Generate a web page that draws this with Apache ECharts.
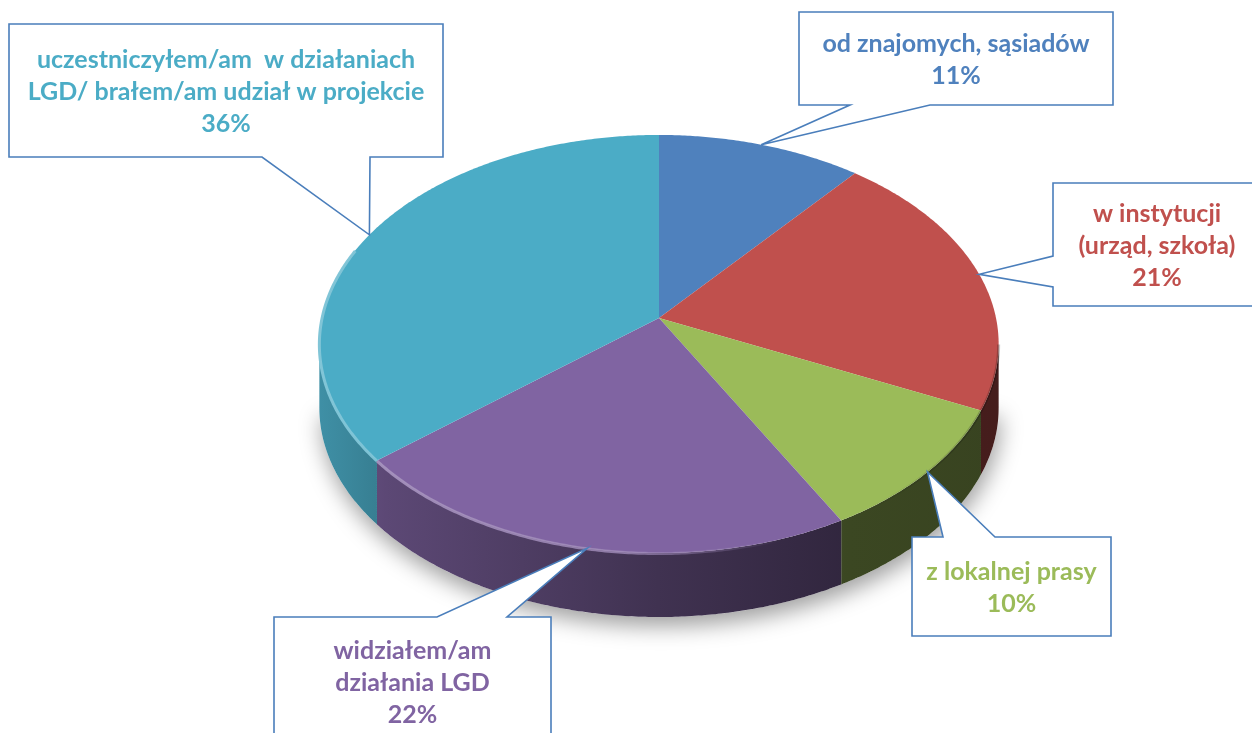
<!DOCTYPE html>
<html>
<head>
<meta charset="utf-8">
<script src="https://cdn.jsdelivr.net/npm/echarts@6/dist/echarts.min.js"></script>
<style>
  html, body { margin: 0; padding: 0; background: #ffffff; }
  #chart { width: 1252px; height: 733px; }
</style>
</head>
<body>
<div id="chart"></div>
<script>
// Where respondents learned about the LGD – shares of answers (%)
const categories = [
  'od znajomych, sąsiadów',
  'w instytucji\n(urząd, szkoła)',
  'z lokalnej prasy',
  'widziałem/am\ndziałania LGD',
  'uczestniczyłem/am  w działaniach\nLGD/ brałem/am udział w projekcie'
];
const shares = [11, 21, 10, 22, 36];
const sliceColors = ['#4F81BD', '#C0504D', '#9BBB59', '#8064A2', '#4BACC6'];

// Tilted disc: projected centre, radii, perspective factor, wall height
const CX = 659, CY = 318, RX = 337, RY = 205.8, PERSP = 0.1244, DEPTH = 64;

// Callout boxes and the two points where the pointer leaves the box edge
const callouts = [
  { x: 799,  y: 12,  w: 314, h: 93,  edge: 'bottom', from: 850, to: 930 },
  { x: 1053, y: 183, w: 208, h: 123, edge: 'left',   from: 256, to: 287 },
  { x: 912,  y: 537, w: 199, h: 99,  edge: 'top',    from: 943, to: 995 },
  { x: 274,  y: 617, w: 277, h: 130, edge: 'top',    from: 437, to: 507 },
  { x: 9,    y: 24,  w: 434, h: 133, edge: 'bottom', from: 262, to: 370 }
];

const total = shares.reduce((a, b) => a + b, 0);
const startDeg = [];
(function () {
  let acc = 0;
  shares.forEach(v => { startDeg.push(acc / total * 360); acc += v; });
})();

// Angle measured clockwise from 12 o'clock; perspective makes the far side smaller
function proj(deg, drop) {
  const t = deg * Math.PI / 180;
  const s = Math.sin(t), c = Math.cos(t);
  const d = 1 + PERSP * c;
  return [CX + RX * s / d, CY - RY * c / d + (drop || 0)];
}
function arc(a0, a1, drop) {
  const pts = [];
  const n = Math.max(2, Math.ceil(Math.abs(a1 - a0) * 2));
  for (let i = 0; i <= n; i++) pts.push(proj(a0 + (a1 - a0) * i / n, drop));
  return pts;
}
// Front part of the wall that faces the viewer
const VIS_R = Math.acos(-PERSP) * 180 / Math.PI;
const VIS_L = 360 - VIS_R;

function rgb(hex) {
  const n = parseInt(hex.slice(1), 16);
  return [(n >> 16) & 255, (n >> 8) & 255, n & 255];
}
function shade(hex, f, a) {
  const c = rgb(hex).map(v => Math.round(v * f));
  return 'rgba(' + c.join(',') + ',' + (a == null ? 1 : a) + ')';
}
function tint(hex, f, a) {
  const c = rgb(hex).map(v => Math.round(v + (255 - v) * f));
  return 'rgba(' + c.join(',') + ',' + (a == null ? 1 : a) + ')';
}
function wallFill(hex) {
  return new echarts.graphic.LinearGradient(318, 0, 998, 0, [
    { offset: 0, color: shade(hex, 0.84) },
    { offset: 0.1, color: shade(hex, 0.72) },
    { offset: 0.5, color: shade(hex, 0.5) },
    { offset: 0.78, color: shade(hex, 0.38) },
    { offset: 1, color: shade(hex, 0.36) }
  ], true);
}
function rimStroke(hex) {
  return new echarts.graphic.LinearGradient(318, 0, 998, 0, [
    { offset: 0, color: tint(hex, 0.3, 1) },
    { offset: 0.45, color: tint(hex, 0.25, 0.8) },
    { offset: 0.68, color: tint(hex, 0.2, 0) },
    { offset: 0.8, color: 'rgba(0,0,0,0)' },
    { offset: 1, color: 'rgba(0,0,0,0.22)' }
  ], true);
}

function sliceRange(params, api) {
  const i = params.dataIndex;
  const a0 = startDeg[i];
  return [a0, a0 + api.value(0) / total * 360];
}

function renderWall(params, api) {
  const i = params.dataIndex;
  const [a0, a1] = sliceRange(params, api);
  const children = [];
  if (i === 0) {
    // soft shadow cast under the front of the disc
    const base = arc(VIS_R, VIS_L, DEPTH);
    children.push({
      type: 'polygon',
      z2: 0,
      shape: { points: base },
      style: {
        fill: '#ffffff',
        shadowBlur: 22,
        shadowColor: 'rgba(0,0,0,0.38)',
        shadowOffsetY: 9,
        shadowOffsetX: 2
      }
    });
  }
  const s = Math.max(a0, VIS_R), e = Math.min(a1, VIS_L);
  if (s < e) {
    const pts = arc(s, e, 0).concat(arc(e, s, DEPTH));
    children.push({
      type: 'polygon',
      z2: 1,
      shape: { points: pts },
      style: { fill: wallFill(sliceColors[i]) }
    });
  }
  return { type: 'group', children };
}

function renderTop(params, api) {
  const i = params.dataIndex;
  const [a0, a1] = sliceRange(params, api);
  const children = [{
    type: 'polygon',
    shape: { points: [[CX, CY]].concat(arc(a0, a1, 0)) },
    style: { fill: sliceColors[i] }
  }];
  const s = Math.max(a0, VIS_R), e = Math.min(a1, 290);
  if (s < e) {
    children.push({
      type: 'polyline',
      shape: { points: arc(s, e, 0.5) },
      style: { fill: null, stroke: rimStroke(sliceColors[i]), lineWidth: 3 }
    });
  }
  return { type: 'group', children };
}

function renderCallout(params, api) {
  const i = params.dataIndex;
  const [a0, a1] = sliceRange(params, api);
  const tip = proj((a0 + a1) / 2, 0);
  const b = callouts[i];
  const L = b.x, T = b.y, R = b.x + b.w, B = b.y + b.h;
  let pts;
  if (b.edge === 'bottom') {
    pts = [[L, T], [R, T], [R, B], [b.to, B], tip, [b.from, B], [L, B]];
  } else if (b.edge === 'top') {
    pts = [[L, T], [b.from, T], tip, [b.to, T], [R, T], [R, B], [L, B]];
  } else {
    pts = [[L, T], [R, T], [R, B], [L, B], [L, b.to], tip, [L, b.from]];
  }
  return {
    type: 'group',
    children: [
      {
        type: 'polygon',
        shape: { points: pts },
        style: { fill: '#ffffff', stroke: '#4A7EBB', lineWidth: 1.6, lineJoin: 'miter' }
      },
      {
        type: 'text',
        style: {
          text: categories[i] + '\n' + api.value(0) + '%',
          x: L + b.w / 2,
          y: T + b.h / 2 + 1,
          align: 'center',
          verticalAlign: 'middle',
          fill: sliceColors[i],
          font: 'bold 25px Lato',
          lineHeight: 32
        }
      }
    ]
  };
}

const chart = echarts.init(document.getElementById('chart'), null, { renderer: 'canvas' });
chart.setOption({
  backgroundColor: '#ffffff',
  animation: false,
  series: [
    { type: 'custom', coordinateSystem: 'none', silent: true, z: 1, data: shares, renderItem: renderWall },
    { type: 'custom', coordinateSystem: 'none', silent: true, z: 2, data: shares, renderItem: renderTop },
    { type: 'custom', coordinateSystem: 'none', silent: true, z: 3, data: shares, renderItem: renderCallout }
  ]
});
</script>
</body>
</html>
